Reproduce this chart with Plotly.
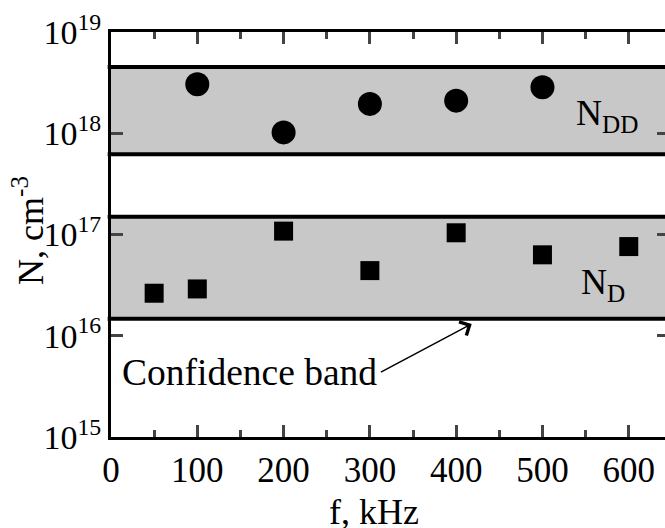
import plotly.graph_objects as go
import numpy as np

# data
f_dd = [100, 200, 300, 400, 500]
n_dd = [3.05e18, 1.02e18, 1.95e18, 2.1e18, 2.85e18]
f_d = [50, 100, 200, 300, 400, 500, 600]
n_d = [2.63e16, 2.9e16, 1.08e17, 4.4e16, 1.04e17, 6.3e16, 7.6e16]
band_dd = [6.2e17, 4.5e18]
band_d = [1.47e16, 1.5e17]
y_ticks = [1e15, 1e16, 1e17, 1e18, 1e19]
y_ticktext = ["10<sup>15</sup>", "10<sup>16</sup>", "10<sup>17</sup>", "10<sup>18</sup>", "10<sup>19</sup>"]
x_ticks = [0, 100, 200, 300, 400, 500, 600]

FONT = "Liberation Serif"
fig = go.Figure()

fig.add_trace(go.Scatter(x=f_dd, y=n_dd, mode="markers",
                         marker=dict(symbol="circle", size=24, color="black"),
                         showlegend=False))
fig.add_trace(go.Scatter(x=f_d, y=n_d, mode="markers",
                         marker=dict(symbol="square", size=19, color="black"),
                         showlegend=False))
# invisible trace for right-side ticks axis
fig.add_trace(go.Scatter(x=[0], y=[1e17], yaxis="y2", mode="markers",
                         marker=dict(opacity=0), showlegend=False, hoverinfo="skip"))

shapes = []
for lo, hi in (band_dd, band_d):
    shapes.append(dict(type="rect", xref="paper", yref="y", x0=0, x1=1, y0=lo, y1=hi,
                       fillcolor="#c8c8c8", line=dict(width=0), layer="below"))
    for v in (lo, hi):
        shapes.append(dict(type="line", xref="paper", yref="y", x0=-0.006, x1=1, y0=v, y1=v,
                           line=dict(color="black", width=4)))
fig.update_layout(shapes=shapes)

fig.update_layout(
    width=665, height=528,
    margin=dict(l=111, r=0, t=32, b=91),
    paper_bgcolor="white", plot_bgcolor="white",
    font=dict(family=FONT, size=35, color="black"),
    xaxis=dict(range=[0, 642], tickvals=x_ticks, ticks="inside", ticklen=12, tickwidth=3,
               showline=True, linewidth=3, linecolor="black", mirror="ticks",
               showgrid=False, zeroline=False, automargin=False,
               minor=dict(dtick=50, tick0=0, ticks="inside", ticklen=7, tickwidth=3, showgrid=False),
               tickfont=dict(family=FONT, size=35)),
    yaxis=dict(type="log", range=[15, 19], tickvals=y_ticks, ticktext=y_ticktext,
               ticks="inside", ticklen=12, tickwidth=3, automargin=False,
               showline=True, linewidth=3, linecolor="black", mirror=False,
               showgrid=False, zeroline=False, tickfont=dict(family=FONT, size=34)),
    yaxis2=dict(type="log", range=[15, 19], overlaying="y", side="right", tickvals=y_ticks,
                ticks="inside", ticklen=8, tickwidth=3, showticklabels=False, automargin=False,
                showline=False, showgrid=False, zeroline=False),
)

ann = [
    dict(text="f, kHz", xref="paper", yref="paper", x=0.475, y=-0.185, xanchor="center",
         yanchor="middle", showarrow=False, font=dict(family=FONT, size=36)),
    dict(text="N, cm<sup>-3</sup>", xref="paper", yref="paper", x=-0.15, y=0.511, textangle=-90,
         xanchor="center", yanchor="middle", showarrow=False, font=dict(family=FONT, size=36)),
    dict(text="N<sub>DD</sub>", xref="x", yref="y", x=537, y=np.log10(1.5e18), xanchor="left",
         yanchor="middle", showarrow=False, font=dict(family=FONT, size=36)),
    dict(text="N<sub>D</sub>", xref="x", yref="y", x=542, y=np.log10(3.2e16), xanchor="left",
         yanchor="middle", showarrow=False, font=dict(family=FONT, size=36)),
    dict(text="Confidence band", xref="x", yref="y", x=10, y=np.log10(4.3e15), xanchor="left",
         yanchor="middle", showarrow=False, font=dict(family=FONT, size=37.5)),
    dict(text="", xref="x", yref="y", x=418, y=np.log10(1.31e16), axref="x", ayref="y",
         ax=311, ay=np.log10(4.3e15), showarrow=True, arrowhead=4, arrowsize=2,
         arrowwidth=1.5, arrowcolor="black"),
]
fig.update_layout(annotations=ann)

fig.write_html("out.html", config={"displayModeBar": False},
               post_script="document.body.style.margin='0';document.body.style.overflow='hidden';")
